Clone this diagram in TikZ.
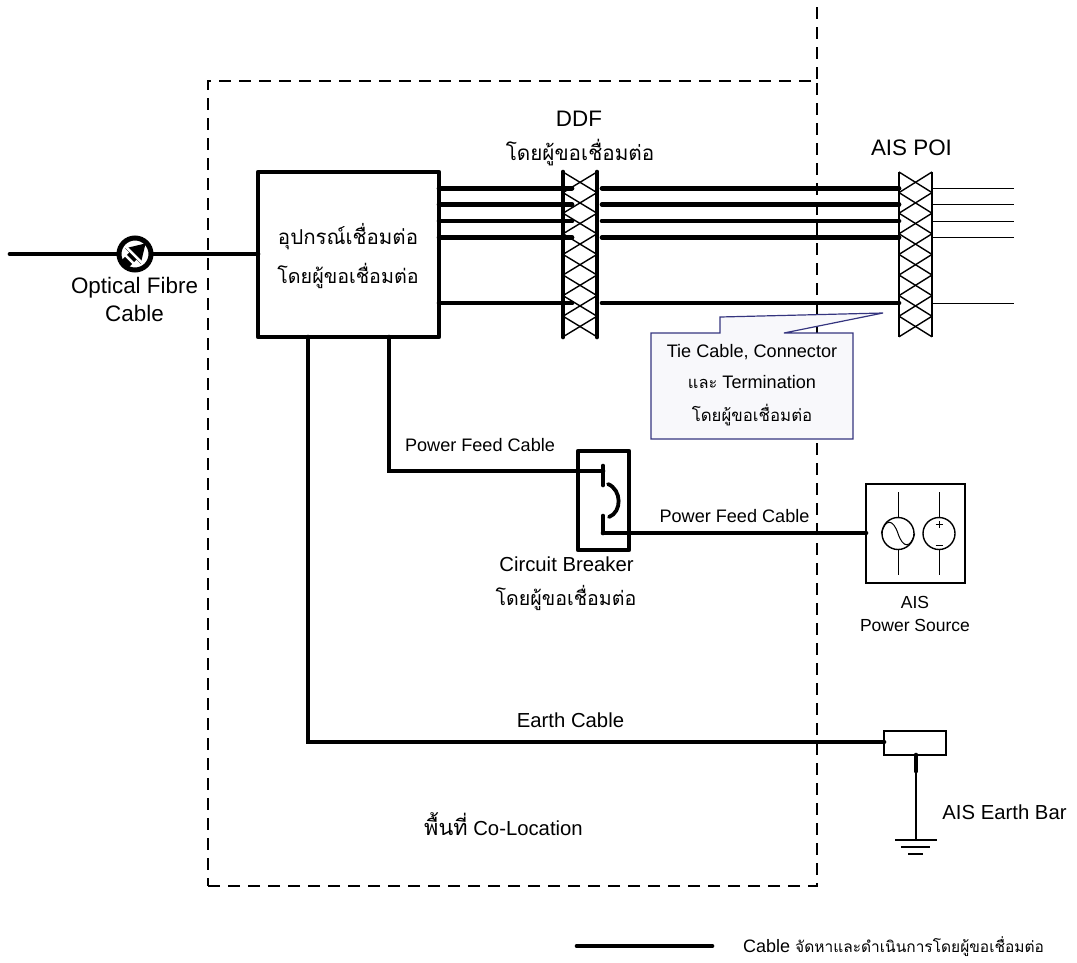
\documentclass[tikz,border=0pt]{standalone}
\usepackage{fontspec}
\setmainfont{Liberation Sans}
\newfontfamily\thaifont[Script=Thai]{Loma}
\usetikzlibrary{positioning,calc}
\newcommand{\thai}[2][20]{{\fontsize{#1}{#1}\thaifont #2}}
\definecolor{noteline}{HTML}{35357F}
\definecolor{notefill}{HTML}{F8F8FB}
\tikzset{
  cable/.style={line width=4.7pt,line cap=round},
  thinline/.style={line width=1.4pt},
  hairline/.style={line width=1pt},
  zone/.style={line width=1.2pt,dash pattern=on 12pt off 8pt},
  heavybox/.style={draw,line width=4.5pt,inner sep=0pt,outer sep=0pt,line join=round},
  lightbox/.style={draw,line width=1.4pt,inner sep=0pt,outer sep=0pt},
  biglabel/.style={font=\fontsize{22.4}{28}\selectfont,align=center,inner sep=0pt},
  midlabel/.style={font=\fontsize{20.3}{24}\selectfont,align=center,inner sep=0pt},
  smalllabel/.style={font=\fontsize{18.1}{23}\selectfont,align=center,inner sep=0pt},
}
\begin{document}
\begin{tikzpicture}[x=1pt,y=-1pt]
  \useasboundingbox (0,0) rectangle (1077,962);
  % co-location area and demarcation
  \node (area) [draw,zone,minimum width=609,minimum height=805,inner sep=0pt,outer sep=0pt] at (512.5,483.5) {};
  \coordinate (edgetop) at (817,7);
  \draw[zone] (edgetop) -- (area.north east);

  % equipment
  \node (equip) [heavybox,minimum width=181,minimum height=165] at (348.5,254.5) {};
  \node (equiptxt1) [biglabel] at (348,237) {\thai[20.5]{อุปกรณ์เชื่อมต่อ}};
  \node (equiptxt2) [biglabel] at (348,276) {\thai[19.7]{โดยผู้ขอเชื่อมต่อ}};

  % fibre
  \coordinate (fibreend) at (10,254);
  \draw[cable] (fibreend) -- (equip.west |- fibreend);
  \node (fibre) [circle,draw,fill=white,line width=5pt,minimum size=32,inner sep=0pt] at (135,254) {};
  \begin{scope}[shift={(135,254)},rotate=45]
    \fill (-15,-5) rectangle (2,5);
    \fill (-3,-11) -- (15,0) -- (-3,11) -- cycle;
    \fill[white] (-9,-6) rectangle (-6.5,6);
    \fill[white] (-2.5,-12) -- (0,-12) -- (0,12) -- (-2.5,12) -- cycle;
  \end{scope}
  \node (fibrelabel) [biglabel] at (134.5,299) {Optical Fibre\\Cable};

  % DDF and POI blocks
  \node (ddf) [minimum width=34,minimum height=165,inner sep=0pt,outer sep=0pt] at (580,254.5) {};
  \node (poi) [minimum width=33,minimum height=165,inner sep=0pt,outer sep=0pt] at (915.5,254.5) {};
  \foreach \n in {ddf,poi}{
    \foreach \k in {0,...,7}{
      \draw[thinline] ($(\n.north west)+(0,\k*20.6)$) -- ($(\n.north east)+(0,\k*20.6+20.6)$);
      \draw[thinline] ($(\n.north east)+(0,\k*20.6)$) -- ($(\n.north west)+(0,\k*20.6+20.6)$);
    }
  }
  \draw[cable] (ddf.north west) -- (ddf.south west);
  \draw[cable] (ddf.north east) -- (ddf.south east);
  \draw[thinline] (poi.north west) -- (poi.south west);
  \draw[thinline] (poi.north east) -- (poi.south east);
  \node (ddflabel) [biglabel] at (579,119) {DDF};
  \node (ddfthai) [biglabel] at (580,153) {\thai[20.7]{โดยผู้ขอเชื่อมต่อ}};
  \node (poilabel) [biglabel] at (911.5,148) {AIS POI};

  % tie cables
  \foreach \y in {188.3,204.5,221,237.5,303}{
    \draw[cable] (equip.east |- 0,\y) -- ([xshift=9]ddf.west |- 0,\y);
    \draw[cable] ([xshift=5]ddf.east |- 0,\y) -- (poi.west |- 0,\y);
    \draw[hairline] (poi.east |- 0,\y) -- ++(82,0);
  }

  % note
  \coordinate (notetip) at (883,313);
  \draw[noteline,fill=notefill,line width=1.2pt] (651,333) -- (720,333) -- (720,317) -- (notetip) -- (784,333) -- (853,333) -- (853,439) -- (651,439) -- cycle;
  \node (notetxt1) [smalllabel] at (752,352) {Tie Cable, Connector};
  \node (notetxt2) [smalllabel] at (752,382) {\thai[16.4]{และ} Termination};
  \node (notetxt3) [smalllabel] at (752,415) {\thai[16.8]{โดยผู้ขอเชื่อมต่อ}};

  % breaker
  \node (breaker) [heavybox,minimum width=51,minimum height=99] at (603.5,500.5) {};
  \coordinate (conin) at (603,485);
  \coordinate (conintop) at (603,466);
  \coordinate (conout) at (603,516);
  \coordinate (conoutbot) at (603,533);
  \draw[cable] (conintop) -- (conin);
  \draw[cable] (conout) -- (conoutbot);
  \draw[line width=3.8pt,line cap=round] (608,484) .. controls (622,490) and (622,512) .. (609,517);
  \node (breakerlabel) [midlabel] at (566.5,564) {Circuit Breaker};
  \node (breakerthai) [biglabel] at (566,598) {\thai[19.6]{โดยผู้ขอเชื่อมต่อ}};

  % power source
  \node (source) [lightbox,minimum size=99] at (915.5,533.5) {};
  \node (acsrc) [circle,draw,thinline,minimum size=32,inner sep=0pt] at (898,533.5) {};
  \node (dcsrc) [circle,draw,thinline,minimum size=32,inner sep=0pt] at (939,533.5) {};
  \draw[hairline] (acsrc.north) -- ++(0,-25);
  \draw[hairline] (acsrc.south) -- ++(0,25);
  \draw[hairline] (dcsrc.north) -- ++(0,-25);
  \draw[hairline] (dcsrc.south) -- ++(0,25);
  \draw[hairline] (acsrc.west) .. controls ++(4,-15) and ++(-5,-15) .. (acsrc.center) .. controls ++(5,15) and ++(-4,15) .. (acsrc.east);
  \draw[hairline] (935.5,524.5) -- ++(7,0) (939,521) -- ++(0,7);
  \draw[hairline] (935.5,545) -- ++(7,0);
  \node (sourcelabel) [smalllabel,font=\fontsize{17.5}{23}\selectfont] at (915,613.5) {AIS\\Power Source};

  % power feed
  \draw[cable] (equip.south -| 389,0) |- (conintop |- 0,471);
  \draw[cable] (conoutbot) -- (source.west |- conoutbot);
  \node (feedin) [smalllabel] at (480,445) {Power Feed Cable};
  \node (feedout) [smalllabel] at (734.5,516) {Power Feed Cable};

  % earth
  \node (bar) [lightbox,minimum width=62,minimum height=24] at (915,743) {};
  \draw[cable] (equip.south -| 308,0) |- (bar.west |- 0,742);
  \node (earthlabel) [midlabel] at (570.5,720) {Earth Cable};
  \coordinate (stubend) at (916,771);
  \coordinate (gnd) at (916,840);
  \draw[cable] (bar.south -| stubend) -- (stubend);
  \draw[thinline] (stubend) -- (gnd);
  \draw[thinline] (895,840) -- (937,840);
  \draw[thinline] (901,847) -- (930,847);
  \draw[thinline] (908,854) -- (923,854);
  \node (barlabel) [midlabel] at (1004.5,812) {AIS Earth Bar};

  \node (arealabel) [midlabel] at (503.5,824) {\thai[21.7]{พื้นที่} Co-Location};

  % legend
  \coordinate (keya) at (577,946);
  \coordinate (keyb) at (712,946);
  \draw[cable] (keya) -- (keyb);
  \node (keytxt) [midlabel,anchor=west,font=\fontsize{18}{22}\selectfont] at (743,947) {Cable \thai[15.5]{จัดหาและดำเนินการโดยผู้ขอเชื่อมต่อ}};
\end{tikzpicture}
\end{document}
